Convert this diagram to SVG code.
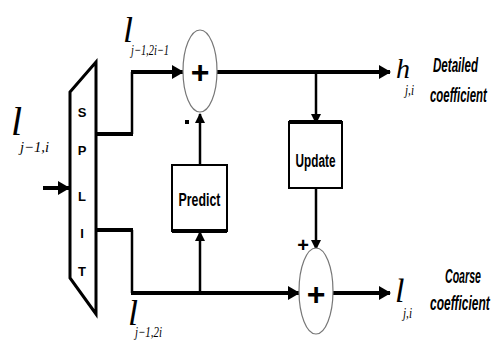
<svg xmlns="http://www.w3.org/2000/svg" width="491" height="346" viewBox="0 0 491 346">
<style>
.t{stroke:#000;stroke-width:4;fill:none}
.n{stroke:#000;stroke-width:2.5;fill:none}
.c{stroke:#777;stroke-width:1.2;fill:#fff}
.m{font-family:"Liberation Serif",serif;font-style:italic;fill:#000}
.s{font-family:"Liberation Serif",serif;font-style:italic;fill:#000;font-size:15px}
.b{font-family:"Liberation Sans",Arial,sans-serif;font-weight:bold;fill:#000}
.lab{font-family:"Liberation Sans",Arial,sans-serif;font-weight:bold;font-style:italic;fill:#000;font-size:20px}
</style>
<defs>
<marker id="ah" markerUnits="userSpaceOnUse" markerWidth="12" markerHeight="14" refX="11" refY="7" orient="auto">
<path d="M0,0 L12,7 L0,14 Z" fill="#000"/>
</marker>
<marker id="as" markerUnits="userSpaceOnUse" markerWidth="10" markerHeight="10" refX="9" refY="5" orient="auto">
<path d="M0,0 L10,5 L0,10 Z" fill="#000"/>
</marker>
</defs>
<rect width="491" height="346" fill="#fff"/>

<g id="connectors">
<path class="t" d="M43,188 L69,188" marker-end="url(#ah)"/>
<path class="t" d="M97,134 L133,134"/>
<path class="n" d="M132,134 L132,72"/>
<path class="t" d="M131,72 L183,72" marker-end="url(#ah)"/>
<path class="t" d="M217,72 L390,72" marker-end="url(#ah)"/>
<path class="n" d="M316,72 L316,123" marker-end="url(#as)"/>
<path class="n" d="M316,188 L316,249" marker-end="url(#as)"/>
<path class="t" d="M97,230 L133,230"/>
<path class="n" d="M132,230 L132,293"/>
<path class="t" d="M131,293 L299,293" marker-end="url(#ah)"/>
<path class="t" d="M333,293 L390,293" marker-end="url(#ah)"/>
<path class="n" d="M200,293 L200,232" marker-end="url(#as)"/>
<path class="n" d="M200,165 L200,114" marker-end="url(#as)"/>
</g>

<g id="split">
<path d="M70,92 L96,62 L96,314 L70,278 Z" fill="#fff" stroke="#000" stroke-width="3" stroke-linejoin="miter"/>
<text class="b" font-size="13" x="82" y="117" text-anchor="middle">S</text>
<text class="b" font-size="13" x="82" y="155" text-anchor="middle">P</text>
<text class="b" font-size="13" x="82" y="201" text-anchor="middle">L</text>
<text class="b" font-size="13" x="82" y="238" text-anchor="middle">I</text>
<text class="b" font-size="13" x="82" y="276" text-anchor="middle">T</text>
</g>

<g id="sum1">
<ellipse class="c" cx="200" cy="71" rx="17" ry="41"/>
<text class="b" font-size="32" x="200" y="83" text-anchor="middle">+</text>
<rect x="185" y="120" width="4" height="4" fill="#000"/>
</g>

<g id="predict">
<rect x="172" y="165" width="55" height="66" fill="#fff" stroke="#000" stroke-width="2"/>
<line x1="172" y1="231" x2="227" y2="231" stroke="#000" stroke-width="4"/>
<text class="b" font-size="19" text-anchor="middle" transform="translate(199.5,206) scale(0.65,1)">Predict</text>
</g>

<g id="update">
<rect x="289" y="122" width="53" height="66" fill="#fff" stroke="#000" stroke-width="2"/>
<line x1="289" y1="122" x2="342" y2="122" stroke="#000" stroke-width="4"/>
<text class="b" font-size="19" text-anchor="middle" transform="translate(315.5,167) scale(0.62,1)">Update</text>
</g>

<g id="sum2">
<ellipse class="c" cx="316" cy="291" rx="17" ry="43"/>
<text class="b" font-size="32" x="316" y="305" text-anchor="middle">+</text>
<text class="b" font-size="20" x="303" y="252" text-anchor="middle">+</text>
</g>

<g id="labels">
<text class="m" font-size="40" x="11" y="135">l</text>
<text class="s" x="20" y="152" textLength="29" lengthAdjust="spacingAndGlyphs">j−1,i</text>
<text class="m" font-size="36" x="123" y="42">l</text>
<text class="s" x="131" y="55" textLength="38" lengthAdjust="spacingAndGlyphs">j−1,2i−1</text>
<text class="m" font-size="36" x="128" y="325">l</text>
<text class="s" x="135" y="337" textLength="27" lengthAdjust="spacingAndGlyphs">j−1,2i</text>
<text class="m" font-size="28" x="396" y="78">h</text>
<text class="s" font-size="12" x="405" y="95" textLength="9" lengthAdjust="spacingAndGlyphs">j,i</text>
<text class="m" font-size="34" x="395" y="302">l</text>
<text class="s" font-size="12" x="403" y="318" textLength="9" lengthAdjust="spacingAndGlyphs">j,i</text>
<text class="lab" transform="translate(433,72) scale(0.58,1)">Detailed</text>
<text class="lab" transform="translate(430,102) scale(0.57,1)">coefficient</text>
<text class="lab" transform="translate(445,283) scale(0.53,1)">Coarse</text>
<text class="lab" transform="translate(430,310) scale(0.6,1)">coefficient</text>
</g>
</svg>
